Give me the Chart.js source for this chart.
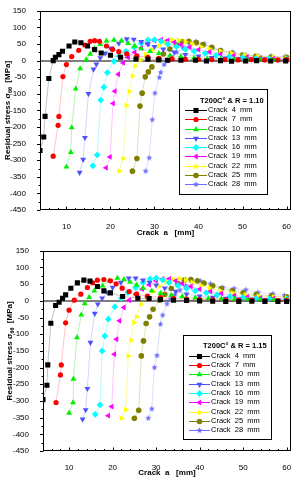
<!DOCTYPE html>
<html>
<head>
<meta charset="utf-8">
<script src="https://cdn.jsdelivr.net/npm/chart.js@4.4.1/dist/chart.umd.min.js"></script>
<style>
html, body { margin: 0; padding: 0; background: #fff; }
.panel { position: absolute; left: 0; width: 298px; height: 240px; }
</style>
</head>
<body>
<div class="panel" style="top:0"><canvas id="chartTop" width="298" height="240"></canvas></div>
<div class="panel" style="top:240px"><canvas id="chartBottom" width="298" height="240"></canvas></div>
<script>
// residual stress along the ligament, [crack position a (mm), stress (MPa)]
// R = 1.10
const crack4_R110 = [[4,-271],[4.85,-230],[5.15,-168],[6,-54],[7,0],[7.5,10],[8.3,18],[9.1,28],[10.6,44],[11.9,56],[13.3,54],[14.8,44],[16.4,33],[17.9,23],[20,16],[22.3,10],[25.8,5],[28.5,4],[31,2],[33,1],[36,1],[39.3,1],[41.8,-1],[45,0],[47.5,-2],[50.7,-1],[53.2,0],[56.4,-1],[59.8,-1]];
const crack7_R110 = [[7,-288],[8.1,-195],[8.3,-168],[9.2,-48],[10,-12],[11.2,12],[12.8,31],[14.2,47],[15.4,58],[16.4,60],[17.5,58],[19.1,44],[20.5,34],[21.9,27],[23.7,20],[26,14],[28.5,10],[31,7],[34,5],[37,4],[40,4],[43,3],[46,3],[49,2],[52,3],[55,2],[58,2],[60,3]];
const crack10_R110 = [[10,-320],[11,-276],[11.2,-202],[12.1,-85],[13.1,-24],[14.5,3],[15.4,20],[16.4,37],[17.7,49],[19.1,59],[20.8,62],[22.5,60],[24,52],[25.5,44],[27,36],[29,28],[31,22],[33.5,15],[36,12],[39,8],[42,6],[45,5],[48,4],[51,3],[54,3],[57,2],[60,3]];
const crack13_R110 = [[13,-337],[13.8,-298],[14.2,-232],[15,-100],[16.15,-26],[16.8,-11],[17.7,8],[18.8,22],[20,37],[21.9,52],[23.7,65],[25.3,64],[27,57],[28.5,50],[30,42],[32,34],[34.5,25],[37,18],[40,13],[43,9],[46,7],[49,5],[52,4],[55,4],[58,3],[60,3]];
const crack16_R110 = [[16,-317],[17,-284],[17.8,-119],[18.5,-80],[19.3,-36],[20.8,-2],[22,14],[23.5,28],[25.4,40],[27,52],[28.5,62],[30,63],[31.5,58],[33,50],[35,42],[37,34],[39,28],[41.5,22],[44,16],[47,12],[50,9],[53,6],[56,5],[60,4]];
const crack19_R110 = [[19,-323],[19.9,-290],[20.6,-129],[21,-92],[21.8,-41],[22.9,-7],[24,10],[25.5,25],[27,38],[28.5,50],[30,60],[31.5,63],[33,61],[34.5,55],[36,48],[38,40],[40,33],[42.5,26],[45,20],[48,15],[51,11],[54,8],[57,6],[60,5]];
const crack22_R110 = [[22,-333],[22.9,-295],[23.6,-135],[24.3,-93],[25,-46],[25.6,-16],[26.8,2],[28,18],[29.5,32],[31,45],[32.5,56],[34,63],[35.5,62],[37,57],[38.5,50],[40.5,42],[42.5,35],[45,28],[47.5,22],[50.5,17],[53.5,13],[57,10],[60,8]];
const crack25_R110 = [[25,-333],[26,-295],[26.7,-137],[27.2,-98],[27.9,-49],[28.6,-34],[29.4,-19],[30.9,5],[32,20],[33.5,35],[35,48],[36.3,57],[37.8,58],[39.5,54],[41,48],[43,40],[45,30],[47.5,22],[50,17],[53,13],[56.5,11],[60,10]];
const crack28_R110 = [[28,-333],[28.8,-293],[29.5,-178],[30.1,-98],[31.1,-51],[31.4,-36],[32.2,-12],[32.8,0],[33.8,12],[35,25],[36.5,38],[38,50],[39.4,57],[41.3,50],[43.1,38],[45,31],[47.8,25],[50.6,17],[53.5,14],[56.5,13],[59.7,12]];

// R = 1.15
const crack4_R115 = [[4,-296],[4.9,-253],[5.1,-192],[5.8,-67],[6.9,-14],[7.7,-4],[8.5,8],[9.2,18],[10.4,38],[11.9,54],[13.4,62],[14.8,59],[16.5,43],[18,30],[19.5,24],[22.3,13],[25.8,8],[28.4,7],[31,4],[34,2],[37,1],[40,0],[43,-1],[46,-2],[49,-2],[52,-1],[55,-2],[58,-2],[60,-2]];
const crack7_R115 = [[7,-305],[8,-222],[8.2,-192],[9.2,-66],[10,-28],[11.2,2],[12.7,20],[14.2,40],[15.4,54],[16.5,62],[18,64],[19.5,60],[20.8,51],[22.2,38],[23.8,28],[25.5,20],[28,14],[31,10],[34,7],[37,5],[40,4],[43,3],[46,2],[49,2],[52,2],[55,1],[58,1],[60,1]];
const crack10_R115 = [[10,-336],[10.9,-305],[11,-234],[11.8,-110],[12.8,-42],[13.6,-8],[14.6,11],[15.8,30],[17.7,45],[19.2,60],[21.1,68],[22.6,64],[24,56],[25.5,48],[27,38],[29,30],[31,23],[33.5,17],[36,13],[39,9],[42,7],[45,6],[48,5],[51,4],[54,3],[57,3],[60,3]];
const crack13_R115 = [[13.1,-355],[13.8,-327],[14.2,-263],[14.9,-125],[15.9,-38],[16.6,-10],[17.6,8],[18.8,25],[20,40],[21.9,55],[23.7,68],[25.3,68],[27,62],[28.5,55],[30,47],[32,38],[34.5,28],[37,20],[40,14],[43,10],[46,7],[49,5],[52,4],[55,3],[58,3],[60,2]];
const crack16_R115 = [[16,-340],[17.1,-312],[17.6,-150],[18.2,-105],[19,-55],[20.5,-18],[22,8],[23.5,25],[25.3,40],[27,55],[28.6,66],[30,68],[31.5,63],[33,55],[35,46],[37,37],[39,30],[41.5,24],[44,18],[47,13],[50,10],[53,7],[56,6],[60,5]];
const crack19_R115 = [[19,-344],[19.8,-317],[20.4,-160],[20.9,-115],[21.6,-60],[22.6,-20],[23.8,2],[25.3,20],[26.8,35],[28.4,48],[30,60],[31.5,66],[33,66],[34.5,60],[36,52],[38,43],[40,35],[42.5,28],[45,22],[48,16],[51,12],[54,9],[57,7],[60,6]];
const crack22_R115 = [[22,-352],[23,-326],[23.6,-165],[24.2,-118],[24.9,-65],[25.5,-48],[26.5,-10],[27.8,10],[29.3,28],[30.8,44],[32.3,57],[33.8,66],[35.3,67],[36.8,62],[38.3,55],[40.3,46],[42.3,38],[44.8,30],[47.5,24],[50.5,18],[53.5,14],[57,11],[60,9]];
const crack25_R115 = [[25,-352],[26,-328],[26.6,-165],[27.1,-120],[27.7,-68],[28.5,-48],[29.3,-25],[30.8,2],[32,20],[33.5,37],[35,52],[36.5,62],[38,64],[39.5,60],[41,53],[43,45],[45,37],[47.5,30],[50,24],[53,19],[56.5,15],[60,12]];
const crack28_R115 = [[28.2,-352],[29,-324],[29.6,-200],[30.2,-164],[31,-70],[31.5,-43],[32.5,-9],[33.3,5],[34.3,18],[35.5,32],[36.8,45],[38.3,55],[40.2,59],[42.5,51],[45.3,40],[47.9,37],[50.6,33],[53.4,25],[56.8,21],[59.5,16]];

const crackLengths = [4, 7, 10, 13, 16, 19, 22, 25, 28];
const seriesR110 = [crack4_R110, crack7_R110, crack10_R110, crack13_R110, crack16_R110, crack19_R110, crack22_R110, crack25_R110, crack28_R110];
const seriesR115 = [crack4_R115, crack7_R115, crack10_R115, crack13_R115, crack16_R115, crack19_R115, crack22_R115, crack25_R115, crack28_R115];
const xTickValues = [10, 20, 30, 40, 50, 60];

const FONT = "'Liberation Sans', Arial, sans-serif";

function makeStar(color, r) {
    const c = document.createElement('canvas');
    c.width = c.height = Math.ceil(2 * r + 2);
    const g = c.getContext('2d');
    g.fillStyle = color;
    g.beginPath();
    for (let i = 0; i < 10; i++) {
        const rr = i % 2 ? r * 0.45 : r;
        const a = -Math.PI / 2 + i * Math.PI / 5;
        g.lineTo(c.width / 2 + rr * Math.cos(a), c.height / 2 + rr * Math.sin(a));
    }
    g.closePath();
    g.fill();
    return c;
}

// Origin-like symbol set, one per crack length
const styles = [
    { color: '#000000', line: 'rgba(0,0,0,0.3)', shape: 'rect', radius: 3.6, rotation: 0 },
    { color: '#ff0000', line: 'rgba(255,0,0,0.3)', shape: 'circle', radius: 2.6, rotation: 0 },
    { color: '#00f000', line: 'rgba(0,220,0,0.35)', shape: 'triangle', radius: 3.4, rotation: 0 },
    { color: '#5050ff', line: 'rgba(80,80,255,0.3)', shape: 'triangle', radius: 3.4, rotation: 180 },
    { color: '#00ffff', line: 'rgba(0,220,255,0.35)', shape: 'rectRot', radius: 3.4, rotation: 0 },
    { color: '#ff00ff', line: 'rgba(255,0,255,0.3)', shape: 'triangle', radius: 3.4, rotation: -90 },
    { color: '#ffff00', line: 'rgba(240,240,0,0.45)', shape: 'triangle', radius: 3.4, rotation: 90 },
    { color: '#808000', line: 'rgba(128,128,0,0.3)', shape: 'circle', radius: 2.8, rotation: 0 },
    { color: '#7070ff', line: 'rgba(112,112,255,0.3)', shape: 'star', radius: 3.2, rotation: 0 }
];
styles[8].shape = makeStar(styles[8].color, styles[8].radius);

function buildDatasets(series) {
    return series.map((pts, i) => {
        const st = styles[i];
        return {
            label: 'Crack  ' + crackLengths[i] + '  mm',
            data: pts.map(p => ({ x: p[0], y: p[1] })),
            showLine: true,
            borderColor: st.line,
            borderWidth: 0.8,
            fill: false,
            tension: 0,
            pointStyle: st.shape,
            pointRadius: st.radius,
            pointRotation: st.rotation,
            pointBackgroundColor: st.color,
            pointBorderWidth: 0,
            pointHoverRadius: st.radius
        };
    });
}

const framePlugin = {
    id: 'frame',
    beforeDatasetsDraw(chart) {
        const ctx = chart.ctx;
        const a = chart.chartArea;
        const y0 = Math.round(chart.scales.y.getPixelForValue(0));
        ctx.save();
        ctx.strokeStyle = '#555';
        ctx.lineWidth = 1.5;
        ctx.beginPath();
        ctx.moveTo(a.left, y0);
        ctx.lineTo(a.right, y0);
        ctx.stroke();
        ctx.restore();
    },
    afterDraw(chart) {
        const ctx = chart.ctx;
        const a = chart.chartArea;
        const sx = chart.scales.x, sy = chart.scales.y;
        ctx.save();
        ctx.strokeStyle = '#000';
        ctx.lineWidth = 1;
        ctx.strokeRect(Math.round(a.left) + 0.5, Math.round(a.top) + 0.5,
            Math.round(a.right - a.left) - 1, Math.round(a.bottom - a.top) - 1);
        ctx.beginPath();
        for (let v = -450; v <= 150; v += 25) {
            const y = Math.round(sy.getPixelForValue(v)) + 0.5;
            const len = v % 50 === 0 ? 3 : 1.5;
            ctx.moveTo(a.left - len, y);
            ctx.lineTo(a.left + 0.5, y);
        }
        for (let v = 6; v <= 60; v += 2) {
            const x = Math.round(sx.getPixelForValue(v)) + 0.5;
            const len = v % 10 === 0 ? 3.5 : 2;
            ctx.moveTo(x, a.bottom);
            ctx.lineTo(x, a.bottom - len);
        }
        ctx.stroke();

        // axis titles
        ctx.fillStyle = '#000';
        ctx.textBaseline = 'middle';
        ctx.font = 'bold 8px ' + FONT;
        ctx.textAlign = 'center';
        ctx.fillText('Crack  a   [mm]', (a.left + a.right) / 2, chart.height - 7);

        const parts = [
            { t: 'Residual stress \u03c3', f: 'bold 8px ' + FONT, dy: 0 },
            { t: '\u03b8\u03b8', f: 'bold 5.5px ' + FONT, dy: 2 },
            { t: '  [MPa]', f: 'bold 8px ' + FONT, dy: 0 }
        ];
        let total = 0;
        parts.forEach(p => { ctx.font = p.f; p.w = ctx.measureText(p.t).width; total += p.w; });
        ctx.translate(chart.options.plugins.frame.yTitleX, (a.top + a.bottom) / 2);
        ctx.rotate(-Math.PI / 2);
        ctx.textAlign = 'left';
        let cx = -total / 2;
        parts.forEach(p => { ctx.font = p.f; ctx.fillText(p.t, cx, p.dy); cx += p.w; });
        ctx.restore();
    }
};

const legendPlugin = {
    id: 'crackLegend',
    afterDraw(chart) {
        const o = chart.options.plugins.crackLegend;
        const ctx = chart.ctx;
        ctx.save();
        ctx.strokeStyle = '#000';
        ctx.lineWidth = 1;
        ctx.strokeRect(o.box[0] + 0.5, o.box[1] + 0.5, o.box[2] - o.box[0], o.box[3] - o.box[1]);
        ctx.fillStyle = '#000';
        ctx.textBaseline = 'middle';
        ctx.textAlign = 'left';
        ctx.font = 'bold 7.5px ' + FONT;
        ctx.fillText(o.title, o.titleX, o.titleY);
        ctx.font = '7.5px ' + FONT;
        chart.data.datasets.forEach((ds, i) => {
            const y = o.y0 + i * o.dy;
            const st = styles[i];
            ctx.strokeStyle = st.color;
            ctx.beginPath();
            ctx.moveTo(o.lineX1, Math.round(y) + 0.5);
            ctx.lineTo(o.lineX2, Math.round(y) + 0.5);
            ctx.stroke();
            ctx.fillStyle = st.color;
            Chart.helpers.drawPoint(ctx, {
                pointStyle: st.shape, rotation: st.rotation, radius: st.radius, borderWidth: 0
            }, (o.lineX1 + o.lineX2) / 2, Math.round(y) + 0.5);
            ctx.fillStyle = '#000';
            ctx.fillText(ds.label, o.textX, y);
        });
        ctx.restore();
    }
};

function makeChart(id, series, yAxisWidth, xAxisHeight, legendOpts, yTitleX) {
    return new Chart(document.getElementById(id), {
        type: 'scatter',
        data: { datasets: buildDatasets(series) },
        options: {
            responsive: false,
            animation: false,
            devicePixelRatio: 1,
            events: [],
            layout: { padding: { left: 0, top: 5, right: 7, bottom: 0 } },
            plugins: {
                legend: { display: false },
                tooltip: { enabled: false },
                frame: { yTitleX: yTitleX },
                crackLegend: legendOpts
            },
            scales: {
                x: {
                    type: 'linear', min: 4, max: 61,
                    grid: { display: false }, border: { display: false },
                    ticks: { color: '#000', font: { family: FONT, size: 8 }, padding: 4, maxRotation: 0 },
                    afterBuildTicks: s => { s.ticks = xTickValues.map(v => ({ value: v })); },
                    afterFit: s => { s.height = xAxisHeight; }
                },
                y: {
                    type: 'linear', min: -450, max: 150,
                    grid: { display: false }, border: { display: false },
                    ticks: { stepSize: 50, color: '#000', font: { family: FONT, size: 8 }, padding: 6 },
                    afterFit: s => { s.width = yAxisWidth; }
                }
            }
        },
        plugins: [framePlugin, legendPlugin]
    });
}

makeChart('chartTop', seriesR110, 40, 30, {
    title: 'T200C\u00b0 & R = 1.10',
    box: [179, 89, 267, 194], titleX: 200, titleY: 101,
    y0: 110, dy: 9.25, lineX1: 185, lineX2: 207, textX: 208
}, 8);

makeChart('chartBottom', seriesR115, 43, 29, {
    title: 'T200C\u00b0 & R = 1.15',
    box: [183, 95, 271, 199], titleX: 203, titleY: 106,
    y0: 115.7, dy: 9.33, lineX1: 189, lineX2: 210, textX: 211
}, 10);
</script>
</body>
</html>
